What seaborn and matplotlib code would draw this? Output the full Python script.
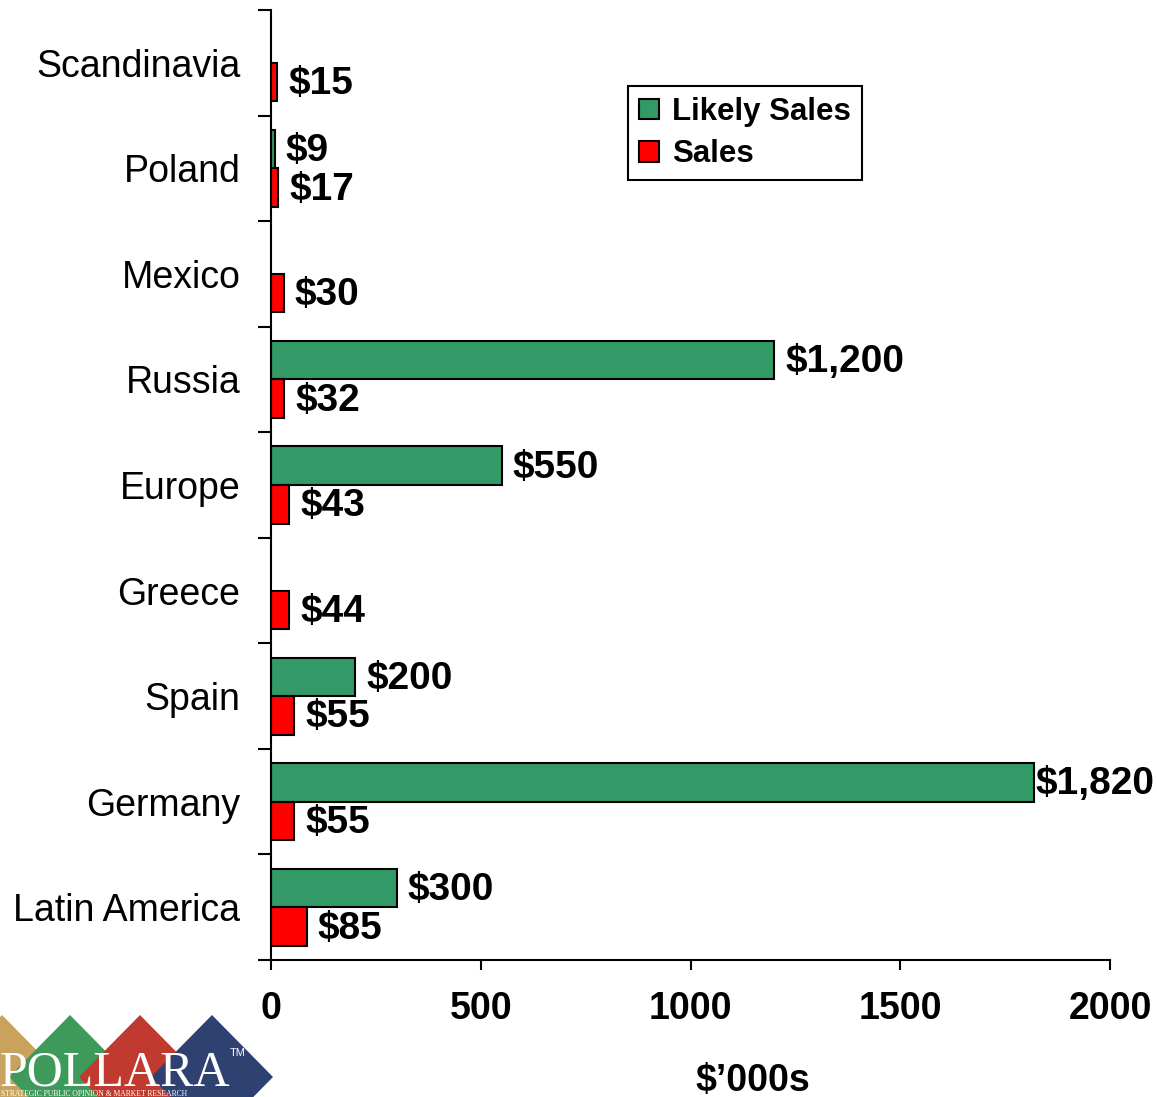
import numpy as np
import pandas as pd
import matplotlib.pyplot as plt
import seaborn as sns
from matplotlib.patches import Polygon, Patch

# data ($'000s)
regions = ["Scandinavia", "Poland", "Mexico", "Russia", "Europe",
           "Greece", "Spain", "Germany", "Latin America"]
likely_sales = [np.nan, 9, np.nan, 1200, 550, np.nan, 200, 1820, 300]
sales = [15, 17, 30, 32, 43, 44, 55, 55, 85]
series = ["Likely Sales", "Sales"]
x_ticks = [0, 500, 1000, 1500, 2000]

colors = {"Likely Sales": "#339966", "Sales": "#FF0000"}

df = pd.DataFrame({
    "region": regions * 2,
    "series": [series[0]] * len(regions) + [series[1]] * len(regions),
    "value": likely_sales + sales,
})

sns.set_style("ticks")
plt.rcParams["font.family"] = ["Liberation Sans", "DejaVu Sans"]
plt.rcParams["text.color"] = "black"
plt.rcParams["axes.labelcolor"] = "black"

W, H = 1157, 1097
fig = plt.figure(figsize=(W / 100, H / 100), dpi=100)
ax = fig.add_axes([271 / W, 1 - 960 / H, (1110 - 271) / W, 950 / H])

sns.barplot(data=df, y="region", x="value", hue="series", order=regions,
            hue_order=series, palette=colors, saturation=1, width=0.73,
            edgecolor="black", linewidth=1.5, orient="h", dodge=True,
            legend=False, ax=ax)

# value labels
labels = []
for cont in ax.containers:
    for bar in cont:
        w = bar.get_width()
        if not np.isfinite(w) or w <= 0:
            continue
        t = ax.annotate(f"${w:,.0f}", (w, bar.get_y() + bar.get_height() / 2),
                        xytext=(8, -1.5), textcoords="offset points",
                        ha="left", va="center", fontsize=28, fontweight="bold",
                        color="black", annotation_clip=False)
        labels.append(t)

ax.set_xlim(0, 2000)
ax.set_ylim(len(regions) - 0.5, -0.5)
ax.set_xticks(x_ticks)
ax.set_yticks(np.arange(len(regions) + 1) - 0.5, minor=True)

ax.tick_params(axis="y", which="major", length=0, pad=22, labelsize=27, labelcolor="black")
ax.tick_params(axis="y", which="minor", length=9.5, width=1.5, direction="out",
               left=True, color="black")
ax.tick_params(axis="x", length=7, width=1.5, direction="out", pad=15,
               labelsize=27, color="black", labelcolor="black")
for lbl in ax.get_xticklabels():
    lbl.set_fontweight("bold")

sns.despine(ax=ax)
for s in ["left", "bottom"]:
    ax.spines[s].set_color("black")
    ax.spines[s].set_linewidth(1.5)

ax.set_ylabel("")
ax.set_xlabel("$\u2019000s", fontsize=27, fontweight="bold")
ax.xaxis.set_label_coords(0.574, -0.108)

handles = [Patch(facecolor=colors[s], edgecolor="black", linewidth=1.5) for s in series]
leg = ax.legend(handles, series, loc="upper left", bbox_to_anchor=(0.4255, 0.92),
                borderaxespad=0, frameon=True, fancybox=False, framealpha=1,
                edgecolor="black", handlelength=0.65, handleheight=0.65,
                handletextpad=0.4, labelspacing=0.4, borderpad=0.35,
                prop={"size": 22.5, "weight": "bold"})
leg.get_frame().set_linewidth(1.5)

# keep labels inside the figure (Excel nudges the long one back in)
fig.canvas.draw()
r = fig.canvas.get_renderer()
for t in labels:
    bb = t.get_window_extent(r)
    if bb.x1 > W - 3:
        dx = (bb.x1 - (W - 3)) * 72 / fig.dpi
        x, y = t.xyann
        t.xyann = (x - dx, y)

# POLLARA logo, bottom left
def fp(px, py):
    return (px / W, 1 - py / H)

logo = [(2, "#C9A25E"), (70, "#3D9A5B"), (140, "#C13A2F"), (212, "#2F4170")]
for cx, col in logo:
    pts = [fp(cx, 1015), fp(cx + 61, 1077), fp(cx, 1139), fp(cx - 61, 1077)]
    fig.add_artist(Polygon(pts, closed=True, facecolor=col, edgecolor="none",
                           transform=fig.transFigure))
fig.text(*fp(0, 1085), "POLLARA", family="Liberation Serif", fontsize=36,
         color="white", ha="left", va="baseline")
fig.text(*fp(230, 1056), "TM", family="Liberation Sans", fontsize=8,
         color="white", ha="left", va="baseline")
fig.text(*fp(1, 1096), "STRATEGIC PUBLIC OPINION & MARKET RESEARCH",
         family="Liberation Serif", fontsize=5.5, color="white",
         ha="left", va="baseline")

fig.savefig("out.png", dpi=100)
